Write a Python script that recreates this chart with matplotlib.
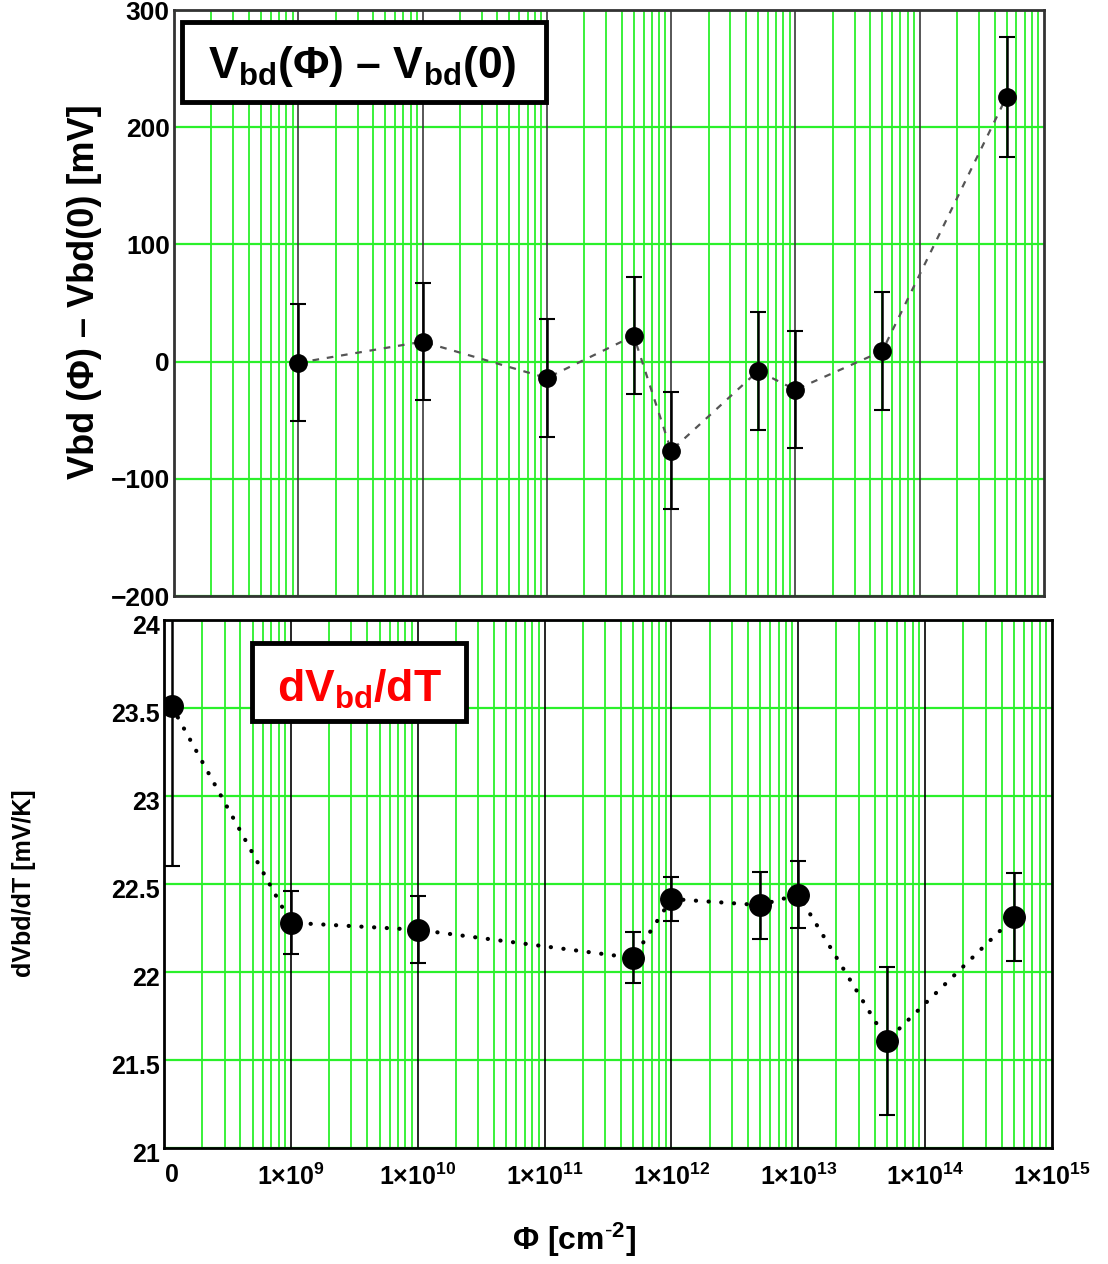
import numpy as np
import matplotlib
matplotlib.use("Agg")
import matplotlib.pyplot as plt
from matplotlib.patches import Rectangle
from matplotlib.transforms import ScaledTranslation
from matplotlib.ticker import FixedLocator, LogLocator, NullFormatter, FixedFormatter

plt.rcParams['font.family'] = ['Liberation Sans', 'DejaVu Sans']
plt.rcParams['mathtext.fontset'] = 'custom'
plt.rcParams['mathtext.rm'] = 'Liberation Sans'
plt.rcParams['mathtext.bf'] = 'Liberation Sans:bold'
plt.rcParams['mathtext.it'] = 'Liberation Sans:italic'

# ---- data ----
# upper panel: Vbd(Phi) - Vbd(0) [mV]
phi_top = [1e9, 1e10, 1e11, 5e11, 1e12, 5e12, 1e13, 5e13, 5e14]
dvbd = [-1, 17, -14, 22, -76, -8, -24, 9, 226]
dvbd_err = [50, 50, 50, 50, 50, 50, 50, 50, 51]

# lower panel: dVbd/dT [mV/K]
phi_bot = [0, 1e9, 1e10, 5e11, 1e12, 5e12, 1e13, 5e13, 5e14]
dvdt = [23.51, 22.28, 22.24, 22.08, 22.415, 22.38, 22.44, 21.61, 22.31]
dvdt_err = [0.91, 0.18, 0.19, 0.145, 0.125, 0.19, 0.19, 0.42, 0.25]

decades = [1e9, 1e10, 1e11, 1e12, 1e13, 1e14, 1e15]
top_yticks = [-200, -100, 0, 100, 200, 300]
bot_yticks = [21, 21.5, 22, 22.5, 23, 23.5, 24]
bot_ylabels = ['21', '21.5', '22', '22.5', '23', '23.5', '24']
zero_pos = 1.15e8   # where Phi = 0 is put on the log axis

GREEN = '#2bf02b'

W, H = 1108, 1264
fig = plt.figure(figsize=(W / 100, H / 100), dpi=100)

def px_axes(l, t, r, b):
    return fig.add_axes([l / W, 1 - b / H, (r - l) / W, (b - t) / H])

def grid_setup(ax, major_col, spine_col):
    ax.set_xscale('log')
    ax.set_xlim(1e8, 1e15)
    ax.xaxis.set_minor_locator(LogLocator(base=10, subs=np.arange(2, 10), numticks=30))
    ax.xaxis.set_minor_formatter(NullFormatter())
    ax.grid(True, which='minor', axis='x', color=GREEN, lw=1.3)
    ax.grid(True, which='major', axis='y', color=GREEN, lw=1.6)
    for d in decades[:-1]:
        ax.axvline(d, color=major_col, lw=1.2, zorder=0.9)
    ax.set_axisbelow(True)
    ax.tick_params(which='both', length=0)
    for s in ax.spines.values():
        s.set_color(spine_col)
        s.set_linewidth(2)

# ---------------- upper panel ----------------
ax1 = px_axes(174, 10, 1044, 596)
grid_setup(ax1, '#3a3a3a', '#333333')
ax1.set_ylim(-200, 300)
ax1.set_yticks(top_yticks)
ax1.xaxis.set_major_locator(FixedLocator(decades))
ax1.tick_params(axis='x', labelbottom=False)
ax1.tick_params(axis='y', labelsize=19, pad=3)
for t in ax1.get_yticklabels():
    t.set_fontweight('bold')

ax1.plot(phi_top, dvbd, color='#555555', lw=1.6, ls=(0, (3, 3.5)), zorder=3)
ax1.errorbar(phi_top, dvbd, yerr=dvbd_err, fmt='none', ecolor='black',
             elinewidth=1.8, capsize=6, capthick=1.5, zorder=4)
ax1.plot(phi_top, dvbd, 'o', color='black', ms=12.5, zorder=5)

ax1.add_patch(Rectangle((0.0092, 0.843), 0.4184, 0.1365, transform=ax1.transAxes,
                        fc='white', ec='black', lw=3.5, zorder=6))
ax1.text(0.216, 0.903, r'$\mathbf{V_{bd}}$(Φ) – $\mathbf{V_{bd}}$(0)',
         transform=ax1.transAxes, ha='center', va='center', fontsize=32,
         fontweight='bold', zorder=7)

fig.text(85 / W, 1 - 292 / H, 'Vbd (Φ) – Vbd(0) [mV]', rotation=90,
         ha='center', va='center', fontsize=26, fontweight='bold')

# ---------------- lower panel ----------------
ax2 = px_axes(164, 620, 1052, 1148)
grid_setup(ax2, 'black', 'black')
ax2.set_ylim(21, 24)
ax2.yaxis.set_major_locator(FixedLocator(bot_yticks))
ax2.yaxis.set_major_formatter(FixedFormatter(bot_ylabels))
xt = [zero_pos] + decades
xl = ['0'] + [r'$\mathbf{1{\times}10^{%d}}$' % int(round(np.log10(d))) for d in decades]
ax2.xaxis.set_major_locator(FixedLocator(xt))
ax2.xaxis.set_major_formatter(FixedFormatter(xl))
ax2.tick_params(axis='x', labelsize=18, pad=11)
ax2.tick_params(axis='y', labelsize=18, pad=3)

x_bot = [zero_pos if p == 0 else p for p in phi_bot]
ax2.plot(x_bot, dvdt, color='black', lw=3, ls=(0, (0.05, 3.0)),
         dash_capstyle='round', zorder=3)
ax2.errorbar(x_bot, dvdt, yerr=dvdt_err, fmt='none', ecolor='black',
             elinewidth=1.8, capsize=6, capthick=1.5, zorder=4)
ax2.plot(x_bot, dvdt, 'o', color='black', ms=15.5, zorder=5)

ax2.add_patch(Rectangle((0.0991, 0.8087), 0.2409, 0.1477, transform=ax2.transAxes,
                        fc='white', ec='black', lw=3.5, zorder=6))
ax2.text(0.2196, 0.868, r'd$\mathbf{V_{bd}}$/dT', transform=ax2.transAxes,
         ha='center', va='center', fontsize=32, fontweight='bold', color='red', zorder=7)

fig.text(24 / W, 1 - 883 / H, 'dVbd/dT [mV/K]', rotation=90,
         ha='center', va='center', fontsize=18, fontweight='bold')
fig.text(574 / W, 1 - 1240 / H, r'Φ [cm$^{\mathbf{\text{-}2}}$]', ha='center', va='center',
         fontsize=23, fontweight='bold')

# lower y labels sit a few pixels below their grid lines in the original
fig.canvas.draw()
shift = ScaledTranslation(0, -5 / 100, fig.dpi_scale_trans)
for tk in ax2.yaxis.get_major_ticks():
    tk.label1.set_transform(tk.label1.get_transform() + shift)
for t in ax2.get_xticklabels() + ax2.get_yticklabels():
    t.set_fontweight('bold')

fig.savefig('out.png', dpi=100)
